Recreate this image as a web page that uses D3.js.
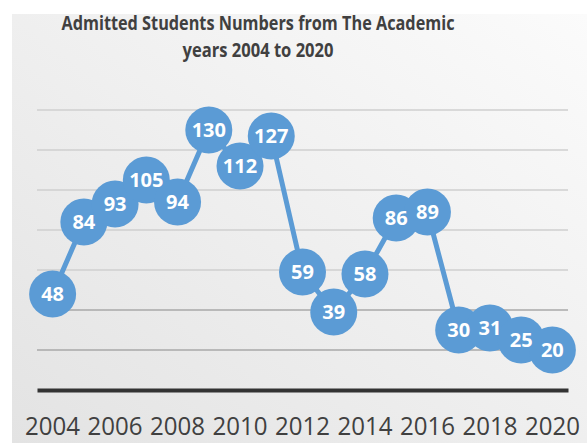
<!DOCTYPE html>
<html><head><meta charset="utf-8">
<script src="https://cdn.jsdelivr.net/npm/d3@7"></script>
<style>body{margin:0;background:#fff}svg{display:block}</style>
</head><body><svg id="c" width="587" height="443"></svg>
<script>
const years = [2004,2005,2006,2007,2008,2009,2010,2011,2012,2013,2014,2015,2016,2017,2018,2019,2020];
const values = [48,84,93,105,94,130,112,127,59,39,58,86,89,30,31,25,20];
const tickLabels = ["2004","2006","2008","2010","2012","2014","2016","2018","2020"];
const gridValues = [20,40,60,80,100,120,140];
const titleLines = ["Admitted Students Numbers from The Academic","years 2004 to 2020"];

const svg = d3.select("#c");
const defs = svg.append("defs");
const g = defs.append("linearGradient").attr("id","bg").attr("x1","1").attr("y1","0").attr("x2","0").attr("y2","1");
g.append("stop").attr("offset","0").attr("stop-color","#fbfbfb");
g.append("stop").attr("offset","1").attr("stop-color","#e3e3e3");
svg.append("rect").attr("x",12).attr("y",14).attr("width",575).attr("height",429).attr("fill","url(#bg)");

const x = d3.scaleBand().domain(years).range([37,568]);
const cx = d => x(d) + x.bandwidth()/2;
const y = d3.scaleLinear().domain([0,140]).range([390,110]);

// gridlines
svg.append("g").selectAll("line").data(gridValues).join("line")
  .attr("x1",37).attr("x2",568).attr("y1",d=>y(d)).attr("y2",d=>y(d))
  .attr("stroke",d=> d<=40 ? "#a8a8a8" : "#cfcfcf").attr("stroke-width",1.6);

// axis
const xAxis = d3.axisBottom(x).tickValues(years.filter(v=>tickLabels.includes(String(v)))).tickSize(0).tickPadding(0);
const ax = svg.append("g").attr("transform",`translate(0,${y(0)})`).call(xAxis);
ax.select(".domain").attr("stroke","#333").attr("stroke-width",4);
ax.selectAll("text").attr("font-family","Open Sans, sans-serif").attr("font-size",25).attr("fill","#404040")
  .attr("dy",0).attr("y",45).attr("textLength",55).attr("lengthAdjust","spacingAndGlyphs");

// line
const line = d3.line().x((d,i)=>cx(years[i])).y(d=>y(d));
svg.append("path").datum(values).attr("d",line).attr("fill","none").attr("stroke","#5b9bd5").attr("stroke-width",5);

// markers
svg.append("g").selectAll("circle").data(values).join("circle")
  .attr("cx",(d,i)=>cx(years[i])).attr("cy",d=>y(d))
  .attr("r",23.5).attr("fill","#5b9bd5");
svg.append("g").selectAll("text").data(values).join("text")
  .attr("x",(d,i)=>cx(years[i])).attr("y",d=>y(d))
  .text(d=>d).attr("text-anchor","middle").attr("dy","0.36em")
  .attr("font-family","Open Sans, sans-serif").attr("font-weight","bold").attr("font-size",20).attr("fill","#fff");

// title
svg.append("g").selectAll("text").data(titleLines).join("text")
  .attr("x",258).attr("y",(d,i)=>30+i*27).attr("text-anchor","middle")
  .attr("font-family","Open Sans, sans-serif").attr("font-weight","bold").attr("font-size",19).attr("fill","#404040")
  .attr("textLength",(d,i)=> i===0 ? 393 : 151).attr("lengthAdjust","spacingAndGlyphs")
  .text(d=>d);
</script></body></html>
